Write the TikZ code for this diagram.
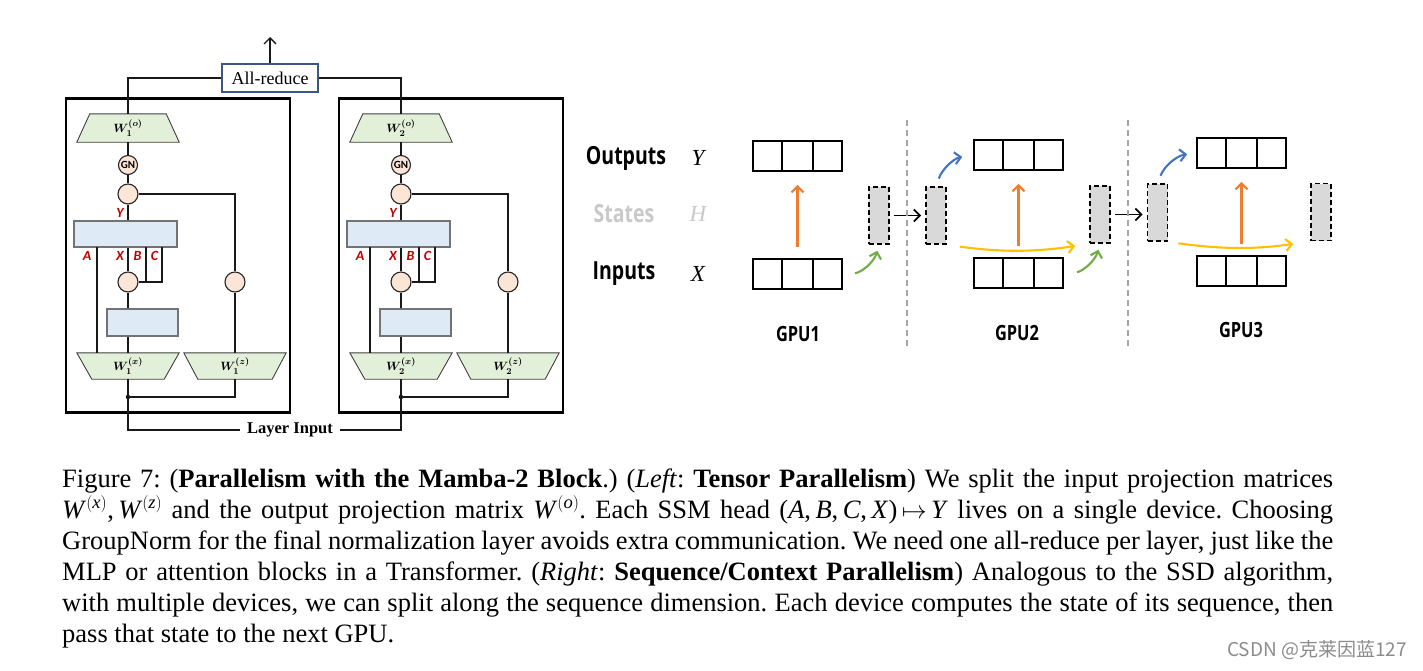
\documentclass[tikz,border=0pt]{standalone}
\usepackage{amsmath}
\usepackage{bm}
\usepackage{fontspec}
\setmainfont{Liberation Serif}
\newfontfamily\carl{Carlito}
\newfontfamily\osc[FakeStretch=0.78]{Open Sans}
\newfontfamily\cjk{Noto Sans CJK SC}
\usetikzlibrary{arrows.meta,calc,backgrounds}
\definecolor{grn}{HTML}{E2F0D9}
\definecolor{blu}{HTML}{DEEBF7}
\definecolor{pch}{HTML}{FBE5D6}
\definecolor{redl}{HTML}{C00000}
\definecolor{orng}{HTML}{ED7D31}
\definecolor{ylw}{HTML}{FFC000}
\definecolor{grnA}{HTML}{70AD47}
\definecolor{bluA}{HTML}{4472C4}
\definecolor{stgray}{HTML}{D9D9D9}
\definecolor{lbl}{HTML}{C9C9C9}
\definecolor{arb}{HTML}{3B5683}
\definecolor{sepg}{HTML}{A6A6A6}
\frenchspacing
\newcommand\wlab[2]{$\bm{W}^{\bm{(#2)}}_{\bm{#1}}$}
\newcommand\tw[1]{\textit{W}$^{(\textit{#1})}$}
\newcommand\mytrap[3]{\begin{scope}[on background layer]\filldraw[trapfill] ($(#1.north west)+(#2,0)$) -- ($(#1.north east)+(-#2,0)$) -- ($(#1.south east)+(-#3,0)$) -- ($(#1.south west)+(#3,0)$) -- cycle;\end{scope}}
\newcommand\cells[1]{\draw[cellline] ($(#1.north west)!1/3!(#1.north east)$) -- ($(#1.south west)!1/3!(#1.south east)$);\draw[cellline] ($(#1.north west)!2/3!(#1.north east)$) -- ($(#1.south west)!2/3!(#1.south east)$);}
\newcommand\mblock[3]{%
 \node[framebox] (#1frame) at ({#3+178},255.5) {};
 \node[trapn, minimum width=102, minimum height=28] (#1wo) at ({#3+128},128) {\wlab{#2}{o}};
 \mytrap{#1wo}{13}{0}
 \node[circ, minimum size=19] (#1gn) at ({#3+128},165) {\carl\bfseries\fontsize{11}{11}\selectfont GN};
 \node[circ] (#1my) at ({#3+128},194) {};
 \node[bbox, minimum width=103, minimum height=26] (#1ssm) at ({#3+125.5},234) {};
 \node[circ] (#1mx) at ({#3+128},282) {};
 \node[circ] (#1mz) at ({#3+235},282) {};
 \node[bbox, minimum width=71, minimum height=27] (#1conv) at ({#3+142.5},322.5) {};
 \node[trapn, minimum width=102, minimum height=26] (#1wx) at ({#3+128},366) {\wlab{#2}{x}};
 \mytrap{#1wx}{0}{15}
 \node[trapn, minimum width=102, minimum height=26] (#1wz) at ({#3+235},366) {\wlab{#2}{z}};
 \mytrap{#1wz}{0}{14}
 \node[dotn] (#1dot) at ({#3+128},397) {};
 \coordinate (#1pa) at ({#3+97},247);
 \coordinate (#1pb) at ({#3+146},247);
 \coordinate (#1pc) at ({#3+162},247);
 \draw[wireln] (#1wo.south) -- (#1gn.north);
 \draw[wireln] (#1gn.south) -- (#1my.north);
 \draw[wireln] (#1my.south) -- (#1my.south |- #1ssm.north);
 \draw[wireln] (#1my.east) -| (#1mz.north);
 \draw[wireln] (#1mz.south) -- (#1wz.north);
 \draw[wireln] (#1mx.north |- #1ssm.south) -- (#1mx.north);
 \draw[wireln] (#1pb) -- (#1pb |- #1mx.east);
 \draw[wireln] (#1pc) |- (#1mx.east);
 \draw[wireln] (#1mx.south) -- (#1mx.south |- #1conv.north);
 \draw[wireln] (#1wx.north |- #1conv.south) -- (#1wx.north);
 \draw[wireln] (#1pa) -- (#1pa |- #1wx.north);
 \draw[wireln] (#1wx.south) -- (#1dot.center);
 \draw[wireln] (#1wz.south) |- (#1dot.center);
 \node[redlab] (#1ly) at ({#3+120},213) {Y};
 \node[redlab] (#1la) at ({#3+87},256) {A};
 \node[redlab] (#1lx) at ({#3+120},256) {X};
 \node[redlab] (#1lb) at ({#3+137.5},256) {B};
 \node[redlab] (#1lc) at ({#3+154.5},256) {C};
}
\begin{document}
\begin{tikzpicture}[x=1pt,y=-1pt,
  framebox/.style={draw, line width=2.5, minimum width=224, minimum height=314, inner sep=0},
  trapn/.style={inner sep=0, font=\fontsize{13}{13}\selectfont},
  trapfill/.style={fill=grn, draw=black!75, line width=0.9},
  circ/.style={circle, draw=black!85, fill=pch, line width=1.1, minimum size=20, inner sep=0},
  bbox/.style={draw=black!55, fill=blu, line width=1.1, inner sep=0},
  dotn/.style={circle, fill=black, minimum size=4.5, inner sep=0},
  wireln/.style={line width=1.3, black!90},
  redlab/.style={text=redl, font=\carl\bfseries\itshape\fontsize{14}{14}\selectfont, inner sep=0},
  rowlab/.style={font=\osc\bfseries\fontsize{25}{25}\selectfont, inner sep=0},
  gpulab/.style={font=\osc\bfseries\fontsize{21}{21}\selectfont, inner sep=0},
  varlab/.style={font=\itshape\fontsize{23}{23}\selectfont, inner sep=0},
  arrthree/.style={draw, line width=1.9, minimum width=89, minimum height=30, inner sep=0},
  cellline/.style={line width=1.9},
  statebox/.style={draw, line width=1.9, fill=stgray, minimum width=20, minimum height=57, inner sep=0, dash pattern=on 5pt off 3pt},
  barbtip/.style={-{Straight Barb[length=6pt,width=12pt]}},
  carr/.style={barbtip, line width=2.1},
  sepline/.style={draw=sepg, line width=1.5, dash pattern=on 6pt off 4pt},
  captext/.style={font=\fontsize{26.5}{31}\selectfont, inner sep=0, anchor=base west}
]
\begin{scope}[on background layer]
\fill[white] (0,0) rectangle (1423,670);
\end{scope}
\useasboundingbox (0,0) rectangle (1423,670);
% ---------- left: tensor parallel blocks
\mblock{b1}{1}{0}
\mblock{b2}{2}{273}
\node[draw=arb, line width=1.2, fill=white, minimum width=96, minimum height=28, inner sep=0, font=\fontsize{18}{18}\selectfont] (ar) at (270,78) {All-reduce};
\coordinate (arup) at (270,37);
\draw[wireln] (ar.west) -| (b1wo.north);
\draw[wireln] (ar.east) -| (b2wo.north);
\draw[wireln, barbtip] (ar.north) -- (arup);
\node[font=\bfseries\fontsize{16.5}{16.5}\selectfont, inner xsep=7, inner ysep=0] (li) at (290,430) {Layer Input};
\draw[wireln] (b1dot.center) |- (li.west);
\draw[wireln] (b2dot.center) |- (li.east);
% ---------- right: sequence parallel
\node[rowlab] (lout) at (626,158) {Outputs};
\node[rowlab, text=lbl] (lst) at (624,214) {States};
\node[rowlab] (lin) at (624,274) {Inputs};
\node[varlab] (vy) at (698,158) {Y};
\node[varlab, text=lbl] (vh) at (698,214) {H};
\node[varlab] (vx) at (698,274) {X};
\node[arrthree] (o1) at (797.5,156) {}; \cells{o1}
\node[arrthree] (i1) at (797.5,274) {}; \cells{i1}
\node[arrthree] (o2) at (1018.5,155) {}; \cells{o2}
\node[arrthree] (i2) at (1018.5,273) {}; \cells{i2}
\node[arrthree] (o3) at (1241.5,153) {}; \cells{o3}
\node[arrthree] (i3) at (1241.5,271) {}; \cells{i3}
\node[statebox] (s1) at (879,215.5) {};
\node[statebox] (s2a) at (936,215.5) {};
\node[statebox] (s2b) at (1100,214.5) {};
\node[statebox] (s3a) at (1157.5,212.5) {};
\node[statebox] (s3b) at (1321,212) {};
\draw[carr, orng, shorten <=11pt, shorten >=13pt] (i1.north) -- (o1.south);
\draw[carr, orng, shorten <=11pt, shorten >=13pt] (i2.north) -- (o2.south);
\draw[carr, orng, shorten <=11pt, shorten >=13pt] (i3.north) -- (o3.south);
\draw[carr, grnA, shorten <=12pt, shorten >=6pt] (i1.east) to[bend right=35] (s1.south);
\draw[carr, grnA, shorten <=13pt, shorten >=6pt] (i2.east) to[bend right=35] (s2b.south);
\draw[carr, black, line width=1.8, shorten <=4pt, shorten >=4pt] (s1.east) -- (s2a.west);
\draw[carr, black, line width=1.8, shorten <=4pt, shorten >=4pt] (s2b.east) -- (s2b.east -| s3a.west);
\draw[carr, bluA, shorten <=8pt, shorten >=11pt] (s2a.north) to[bend left=30] (o2.west);
\draw[carr, bluA, shorten <=8pt, shorten >=9pt] (s3a.north) to[bend left=30] (o3.west);
\draw[carr, ylw, shorten <=13pt, shorten >=14pt] (s2a.south east) to[bend right=8] (s2b.south west);
\draw[carr, ylw, shorten <=10pt, shorten >=17pt] (s3a.south east) to[bend right=8] (s3b.south west);
\coordinate (d1t) at (907,120); \coordinate (d1b) at (907,348);
\coordinate (d2t) at (1128,120); \coordinate (d2b) at (1128,348);
\draw[sepline] (d1t) -- (d1b);
\draw[sepline] (d2t) -- (d2b);
\node[gpulab] (g1) at (798,334) {GPU1};
\node[gpulab] (g2) at (1017,333) {GPU2};
\node[gpulab] (g3) at (1241,330) {GPU3};
% ---------- caption
\node[captext] (c1) at (62,487) {\makebox[1271pt][s]{Figure 7: (\textbf{Parallelism with the Mamba-2 Block}.) (\textit{Left}: \textbf{Tensor Parallelism}) We split the input projection matrices}};
\node[captext] (c2) at (62,518) {\makebox[1271pt][s]{\tw{x},\,\tw{z} and the output projection matrix \tw{o}. Each SSM head (\textit{A},\,\textit{B},\,\textit{C},\,\textit{X})\,$\mapsto$\,\textit{Y} lives on a single device. Choosing}};
\node[captext] (c3) at (62,549) {\makebox[1271pt][s]{GroupNorm for the final normalization layer avoids extra communication. We need one all-reduce per layer, just like the}};
\node[captext] (c4) at (62,580) {\makebox[1271pt][s]{MLP or attention blocks in a Transformer. (\textit{Right}: \textbf{Sequence/Context Parallelism}) Analogous to the SSD algorithm,}};
\node[captext] (c5) at (62,611) {\makebox[1271pt][s]{with multiple devices, we can split along the sequence dimension. Each device computes the state of its sequence, then}};
\node[captext] (c6) at (62,642) {pass that state to the next GPU.};
\node[anchor=base east, inner sep=0, font=\cjk\fontsize{19}{19}\selectfont, text=black!45] (wm) at (1407,656) {CSDN @克莱因蓝127};
\end{tikzpicture}
\end{document}
